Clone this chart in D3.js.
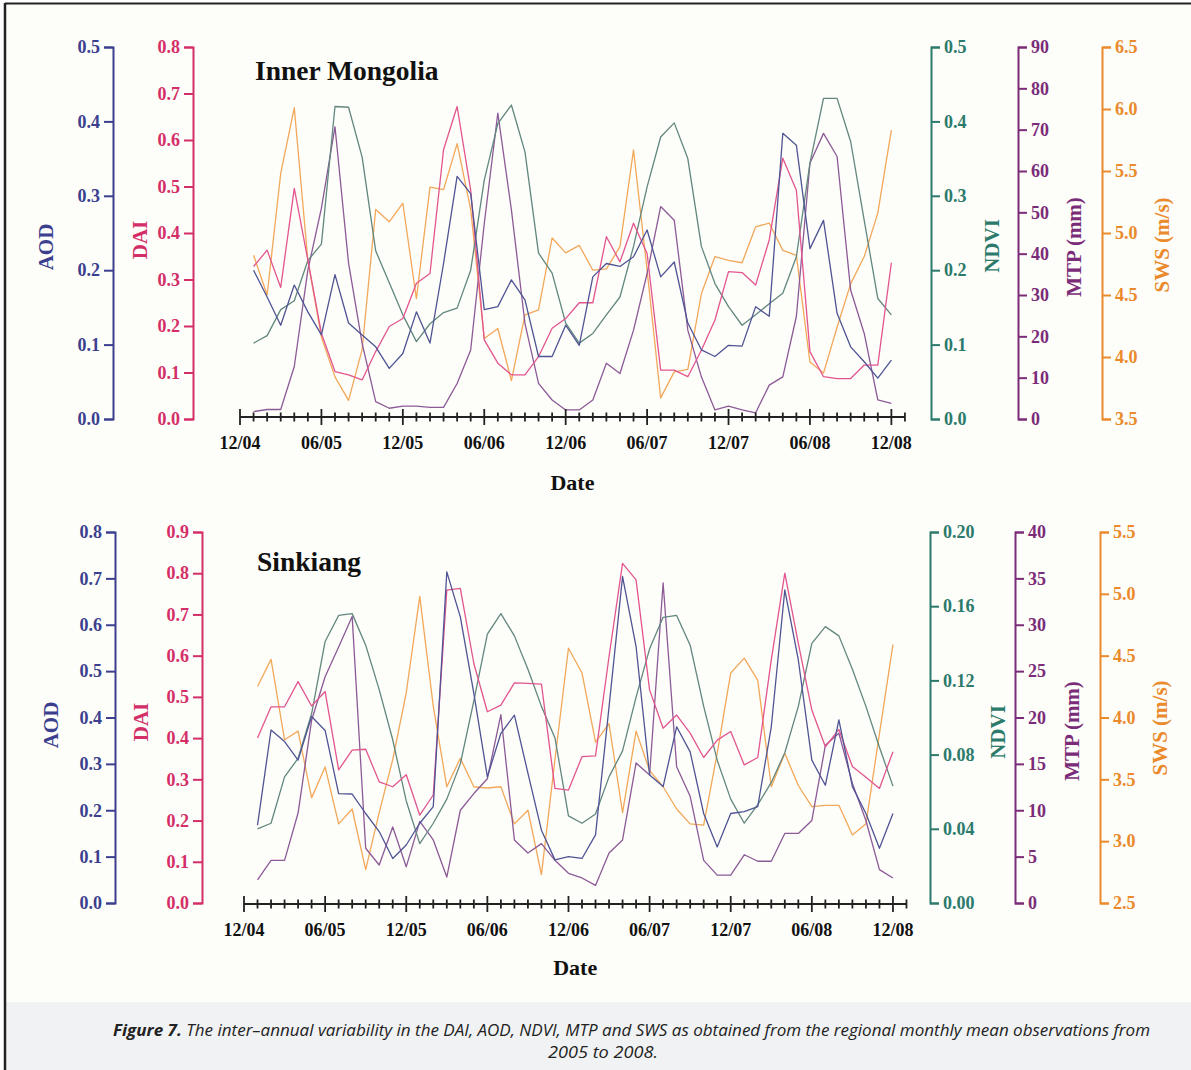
<!DOCTYPE html>
<html><head><meta charset="utf-8">
<script src="https://cdn.jsdelivr.net/npm/d3@7"></script>
<style>body{margin:0;background:#fff}</style></head>
<body>
<svg id="c" width="1191" height="1070"></svg>
<script>
// ---------- data ----------
const months = d3.range(1, 49); // months after 12/04 : 01/05 ... 12/08
const xTickIdx = d3.range(0, 50);
const xLabelIdx = [0, 6, 12, 18, 24, 30, 36, 42, 48];
const xLabels = ["12/04","06/05","12/05","06/06","12/06","06/07","12/07","06/08","12/08"];

// Inner Mongolia
const IM_AOD = [0.200,0.164,0.126,0.180,0.144,0.113,0.194,0.129,0.113,0.097,0.068,0.088,0.144,0.102,0.209,0.326,0.303,0.147,0.151,0.187,0.160,0.084,0.084,0.126,0.099,0.191,0.209,0.205,0.218,0.254,0.191,0.211,0.129,0.093,0.084,0.099,0.098,0.151,0.138,0.384,0.368,0.229,0.267,0.142,0.097,0.077,0.055,0.079];
const IM_DAI = [0.328,0.363,0.283,0.496,0.342,0.184,0.102,0.095,0.084,0.145,0.199,0.216,0.292,0.313,0.579,0.672,0.492,0.170,0.120,0.095,0.095,0.134,0.195,0.216,0.250,0.250,0.392,0.338,0.421,0.356,0.105,0.105,0.091,0.148,0.213,0.317,0.315,0.288,0.385,0.561,0.492,0.145,0.091,0.087,0.087,0.116,0.116,0.336];
const IM_NDVI = [0.102,0.112,0.147,0.159,0.213,0.235,0.420,0.419,0.352,0.226,0.183,0.140,0.104,0.128,0.143,0.149,0.200,0.321,0.397,0.422,0.359,0.223,0.196,0.129,0.102,0.115,0.140,0.164,0.232,0.312,0.379,0.398,0.350,0.232,0.182,0.151,0.126,0.140,0.155,0.169,0.218,0.344,0.431,0.431,0.373,0.267,0.162,0.140];
const IM_MTP = [1.8,2.3,2.3,12.7,36,51,70.7,37.7,18.3,4.2,2.6,3.1,3.1,2.8,2.8,8.6,16.7,47.3,74,50.6,23.1,8.6,4.6,2.2,2.2,4.6,13.5,11,21.5,35.2,51.4,48.1,21.5,10.2,2.2,3.1,2.2,1.5,8.2,10.2,24.8,61.9,69.1,63.5,31.2,20.7,4.6,3.8];
const IM_SWS = [4.82,4.50,5.48,6.01,4.78,4.16,3.84,3.65,4.06,5.19,5.09,5.24,4.47,5.37,5.35,5.72,5.19,4.15,4.23,3.81,4.34,4.38,4.96,4.84,4.90,4.70,4.71,4.89,5.67,4.70,3.67,3.88,3.90,4.51,4.81,4.78,4.76,5.05,5.08,4.86,4.82,3.96,3.87,4.24,4.59,4.81,5.16,5.83];

// Sinkiang
const SK_AOD = [0.168,0.373,0.348,0.308,0.402,0.372,0.236,0.235,0.193,0.154,0.096,0.125,0.172,0.208,0.714,0.617,0.452,0.272,0.366,0.405,0.280,0.157,0.093,0.100,0.096,0.147,0.423,0.704,0.553,0.276,0.251,0.380,0.326,0.193,0.121,0.193,0.197,0.208,0.380,0.675,0.524,0.308,0.254,0.395,0.251,0.193,0.118,0.193];
const SK_DAI = [0.400,0.476,0.476,0.537,0.478,0.513,0.323,0.371,0.373,0.294,0.282,0.311,0.213,0.262,0.759,0.763,0.581,0.464,0.480,0.534,0.533,0.531,0.278,0.274,0.355,0.357,0.598,0.824,0.784,0.517,0.424,0.456,0.412,0.353,0.395,0.416,0.335,0.353,0.590,0.800,0.630,0.468,0.379,0.421,0.331,0.305,0.278,0.367];
const SK_NDVI = [0.040,0.043,0.068,0.078,0.102,0.141,0.155,0.156,0.139,0.115,0.088,0.055,0.032,0.043,0.056,0.075,0.109,0.145,0.156,0.144,0.126,0.106,0.089,0.047,0.043,0.048,0.068,0.082,0.111,0.137,0.154,0.155,0.139,0.106,0.077,0.056,0.043,0.053,0.065,0.081,0.106,0.140,0.149,0.144,0.126,0.106,0.084,0.063];
const SK_MTP = [2.5,4.6,4.6,9.7,19.7,24.4,27.6,30.9,5.9,4.1,8.2,3.9,8.8,6.8,2.8,10.0,11.8,13.4,20.3,6.8,5.4,6.4,4.6,3.2,2.7,1.9,5.4,6.8,15.1,13.8,34.5,14.7,11.5,4.6,3.0,3.0,5.2,4.5,4.5,7.5,7.5,8.9,17.0,18.3,12.9,8.9,3.6,2.7];
const SK_SWS = [4.25,4.47,3.82,3.89,3.35,3.60,3.14,3.26,2.77,3.23,3.66,4.20,4.98,4.09,3.44,3.67,3.44,3.43,3.44,3.14,3.25,2.73,3.66,4.56,4.36,3.80,3.95,3.23,3.89,3.57,3.44,3.26,3.14,3.13,3.71,4.36,4.48,4.30,3.44,3.71,3.45,3.28,3.29,3.29,3.05,3.14,3.87,4.59];

// axis ticks
const IM_AOD_TICKS = [0,0.1,0.2,0.3,0.4,0.5];
const IM_DAI_TICKS = [0,0.1,0.2,0.3,0.4,0.5,0.6,0.7,0.8];
const IM_NDVI_TICKS = [0,0.1,0.2,0.3,0.4,0.5];
const IM_MTP_TICKS = [0,10,20,30,40,50,60,70,80,90];
const IM_SWS_TICKS = [3.5,4.0,4.5,5.0,5.5,6.0,6.5];
const SK_AOD_TICKS = [0,0.1,0.2,0.3,0.4,0.5,0.6,0.7,0.8];
const SK_DAI_TICKS = [0,0.1,0.2,0.3,0.4,0.5,0.6,0.7,0.8,0.9];
const SK_NDVI_TICKS = [0,0.04,0.08,0.12,0.16,0.20];
const SK_MTP_TICKS = [0,5,10,15,20,25,30,35,40];
const SK_SWS_TICKS = [2.5,3.0,3.5,4.0,4.5,5.0,5.5];

const seriesNames = ["AOD","DAI","NDVI","MTP (mm)","SWS (m/s)"];
// ---------- styling ----------
const axisColor = {AOD:"#3b3f8e", DAI:"#d42e68", NDVI:"#2c7a6b", MTP:"#7b2c78", SWS:"#ea8a2d"};
const lineColor = {AOD:"#4f5494", DAI:"#e2558f", NDVI:"#62877f", MTP:"#8c5a97", SWS:"#f2a85a"};
const serif = "'Liberation Serif','Times New Roman',serif";

const svg = d3.select("#c");
svg.append("rect").attr("x",0).attr("y",0).attr("width",1191).attr("height",1070).attr("fill","#fff");
svg.append("rect").attr("x",5).attr("y",4).attr("width",1186).attr("height",998).attr("fill","#fdfdf9");
svg.append("rect").attr("x",6).attr("y",1002).attr("width",1185).attr("height",68).attr("fill","#f1f2f4");
svg.append("line").attr("x1",5).attr("x2",1191).attr("y1",3.5).attr("y2",3.5).attr("stroke","#222").attr("stroke-width",2);
svg.append("line").attr("x1",5).attr("x2",5).attr("y1",3).attr("y2",1070).attr("stroke","#222").attr("stroke-width",2.5);

const panels = [
  { title:"Inner Mongolia", titleX:255, titleY:80, x0:240, step:13.57, yBottom:419, yTop:47, axisY:417,
    data:{AOD:IM_AOD, DAI:IM_DAI, NDVI:IM_NDVI, MTP:IM_MTP, SWS:IM_SWS},
    dom:{AOD:[0,0.5], DAI:[0,0.8], NDVI:[0,0.5], MTP:[0,90], SWS:[3.5,6.5]},
    ticks:{AOD:IM_AOD_TICKS, DAI:IM_DAI_TICKS, NDVI:IM_NDVI_TICKS, MTP:IM_MTP_TICKS, SWS:IM_SWS_TICKS},
    fmt:{AOD:".1f", DAI:".1f", NDVI:".1f", MTP:"d", SWS:".1f"},
    axX:{AOD:113, DAI:193, NDVI:931, MTP:1018, SWS:1102},
    labX:{AOD:46, DAI:140, NDVI:992, MTP:1074, SWS:1162},
    labY:{AOD:247, DAI:240, NDVI:246, MTP:247, SWS:245},
    dateY:482 },
  { title:"Sinkiang", titleX:257, titleY:571, x0:244, step:13.52, yBottom:903, yTop:532, axisY:904,
    data:{AOD:SK_AOD, DAI:SK_DAI, NDVI:SK_NDVI, MTP:SK_MTP, SWS:SK_SWS},
    dom:{AOD:[0,0.8], DAI:[0,0.9], NDVI:[0,0.2], MTP:[0,40], SWS:[2.5,5.5]},
    ticks:{AOD:SK_AOD_TICKS, DAI:SK_DAI_TICKS, NDVI:SK_NDVI_TICKS, MTP:SK_MTP_TICKS, SWS:SK_SWS_TICKS},
    fmt:{AOD:".1f", DAI:".1f", NDVI:".2f", MTP:"d", SWS:".1f"},
    axX:{AOD:115, DAI:202, NDVI:930, MTP:1015, SWS:1100},
    labX:{AOD:51, DAI:141, NDVI:998, MTP:1072, SWS:1160},
    labY:{AOD:725, DAI:722, NDVI:732, MTP:731, SWS:728},
    dateY:967 }
];
const keys = ["AOD","DAI","NDVI","MTP","SWS"];
const side = {AOD:"left", DAI:"left", NDVI:"right", MTP:"right", SWS:"right"};

panels.forEach(p => {
  const g = svg.append("g");
  const x = d3.scaleLinear().domain([0,49]).range([p.x0, p.x0 + 49*p.step]);
  const ys = {};
  keys.forEach(k => ys[k] = d3.scaleLinear().domain(p.dom[k]).range([p.yBottom, p.yTop]));

  // lines
  ["SWS","MTP","NDVI","DAI","AOD"].forEach(k => {
    const line = d3.line().x((d,i)=>x(months[i])).y(d=>ys[k](d));
    g.append("path").datum(p.data[k]).attr("d", line)
      .attr("fill","none").attr("stroke", lineColor[k]).attr("stroke-width",1.3)
      .attr("stroke-linejoin","round");
  });

  // y axes
  keys.forEach((k, j) => {
    const ax = (side[k]==="left" ? d3.axisLeft(ys[k]) : d3.axisRight(ys[k]))
      .tickValues(p.ticks[k]).tickFormat(d3.format(p.fmt[k])).tickSize(9).tickPadding(4);
    const a = g.append("g").attr("transform", `translate(${p.axX[k]},0)`).call(ax);
    a.select(".domain").attr("stroke", axisColor[k]).attr("stroke-width",2);
    a.selectAll(".tick line").attr("stroke", axisColor[k]).attr("stroke-width",2);
    a.selectAll(".tick text").attr("fill", axisColor[k]).attr("font-family", serif)
      .attr("font-weight","bold").attr("font-size",18);
    g.append("text").text(seriesNames[j])
      .attr("transform", `translate(${p.labX[k]},${p.labY[k]}) rotate(-90)`)
      .attr("text-anchor","middle").attr("dominant-baseline","central")
      .attr("fill", axisColor[k]).attr("font-family", serif).attr("font-weight","bold").attr("font-size",21);
  });

  // x axis
  g.append("line").attr("x1", x(0)).attr("x2", x(49)).attr("y1", p.axisY).attr("y2", p.axisY)
    .attr("stroke","#222").attr("stroke-width",2);
  g.selectAll(".xt").data(xTickIdx).join("line")
    .attr("x1", d=>x(d)).attr("x2", d=>x(d))
    .attr("y1", d=> p.axisY - (d%6===0 ? 8 : 4.5))
    .attr("y2", d=> p.axisY + (d%6===0 ? 8 : 4.5))
    .attr("stroke","#222").attr("stroke-width",1.8);
  g.selectAll(".xl").data(xLabelIdx).join("text")
    .attr("x", d=>x(d)).attr("y", p.axisY + 26)
    .attr("text-anchor","middle").attr("dominant-baseline","central")
    .attr("font-family", serif).attr("font-weight","bold").attr("font-size",18).attr("fill","#111")
    .text((d,i)=>xLabels[i]);
  g.append("text").text("Date").attr("x", (x(0)+x(49))/2).attr("y", p.dateY)
    .attr("text-anchor","middle").attr("dominant-baseline","central")
    .attr("font-family", serif).attr("font-weight","bold").attr("font-size",22).attr("fill","#111");

  // title
  g.append("text").text(p.title).attr("x", p.titleX).attr("y", p.titleY)
    .attr("font-family", serif).attr("font-weight","bold").attr("font-size",27.5).attr("fill","#111");
});

// caption
const cap = svg.append("text").attr("x", 113).attr("y", 1036)
  .attr("textLength", 1037).attr("lengthAdjust","spacingAndGlyphs")
  .attr("font-family","'Open Sans',sans-serif").attr("font-style","italic").attr("font-size",16).attr("fill","#222");
cap.append("tspan").attr("font-weight","bold").text("Figure 7.");
cap.append("tspan").text(" The inter\u2013annual variability in the DAI, AOD, NDVI, MTP and SWS as obtained from the regional monthly mean observations from");
svg.append("text").attr("x", 548).attr("y", 1058)
  .attr("textLength", 110).attr("lengthAdjust","spacingAndGlyphs")
  .attr("font-family","'Open Sans',sans-serif").attr("font-style","italic").attr("font-size",16).attr("fill","#222")
  .text("2005 to 2008.");
</script>
</body></html>
